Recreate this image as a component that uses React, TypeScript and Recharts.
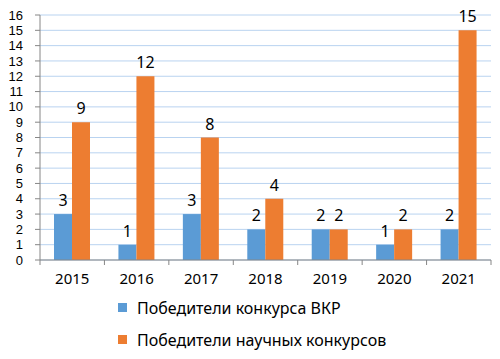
import React from 'react';
import { BarChart, Bar, XAxis, YAxis, CartesianGrid, LabelList } from 'recharts';

const years = ['2015', '2016', '2017', '2018', '2019', '2020', '2021'];
const vkrWinners = [3, 1, 3, 2, 2, 1, 2];
const scienceWinners = [9, 12, 8, 4, 2, 2, 15];
const yTicks = [0, 1, 2, 3, 4, 5, 6, 7, 8, 9, 10, 11, 12, 13, 14, 15, 16];
const seriesNames = ['Победители конкурса ВКР', 'Победители научных конкурсов'];

const data = years.map((year, i) => ({
  year,
  vkr: vkrWinners[i],
  science: scienceWinners[i],
}));

const BLUE = '#5b9bd5';
const ORANGE = '#ed7d31';
const AXIS = '#868686';
const FONT = '"Noto Sans", sans-serif';
const TICK_FONT = '"Liberation Sans", sans-serif';

const W = 500;
const H = 359;
const PLOT_LEFT = 40;
const PLOT_RIGHT = 9;
const HALF_BAND = (W - PLOT_LEFT - PLOT_RIGHT) / years.length / 2;

// category labels plus the boundary tick marks Excel draws between groups
const YearTick = (props: any) => {
  const { x, y, payload, index } = props;
  const isLast = index === years.length - 1;
  return (
    <g>
      <line x1={x - HALF_BAND} x2={x - HALF_BAND} y1={y - 8} y2={y - 3} stroke={AXIS} />
      {isLast && <line x1={x + HALF_BAND} x2={x + HALF_BAND} y1={y - 8} y2={y - 3} stroke={AXIS} />}
      <text x={x} y={y + 16} textAnchor="middle" fontSize={15} fill="#000" fontFamily={FONT}>
        {payload.value}
      </text>
    </g>
  );
};

export default function App() {
  return (
    <div style={{ position: 'absolute', left: 0, top: 0, width: W, height: H, background: '#fff' }}>
      <BarChart
        width={W}
        height={H}
        data={data}
        margin={{ top: 15, right: PLOT_RIGHT, left: 0, bottom: 70 }}
        barGap={0}
        barCategoryGap={14}
      >
        <CartesianGrid vertical={false} stroke="#b9d3f0" />
        <XAxis
          dataKey="year"
          stroke={AXIS}
          tickLine={false}
          tick={<YearTick />}
          height={29}
          interval={0}
        />
        <YAxis
          domain={[0, 16]}
          ticks={yTicks}
          interval={0}
          width={PLOT_LEFT}
          stroke={AXIS}
          tickSize={5}
          tickMargin={12}
          tick={{ fill: '#000', fontSize: 13, fontFamily: TICK_FONT }}
        />
        <Bar dataKey="vkr" fill={BLUE} isAnimationActive={false}>
          <LabelList dataKey="vkr" position="top" offset={8} fill="#000" fontSize={16} fontFamily={FONT} />
        </Bar>
        <Bar dataKey="science" fill={ORANGE} isAnimationActive={false}>
          <LabelList dataKey="science" position="top" offset={8} fill="#000" fontSize={16} fontFamily={FONT} />
        </Bar>
      </BarChart>
      <div style={{ position: 'absolute', left: 118, top: 297, fontFamily: FONT, fontSize: 16, color: '#000' }}>
        {seriesNames.map((name, i) => (
          <div key={name} style={{ display: 'flex', alignItems: 'center', height: 21, marginBottom: i === 0 ? 11 : 0 }}>
            <span style={{ width: 9, height: 9, background: i === 0 ? BLUE : ORANGE, marginRight: 10, display: 'inline-block' }} />
            <span>{name}</span>
          </div>
        ))}
      </div>
    </div>
  );
}
